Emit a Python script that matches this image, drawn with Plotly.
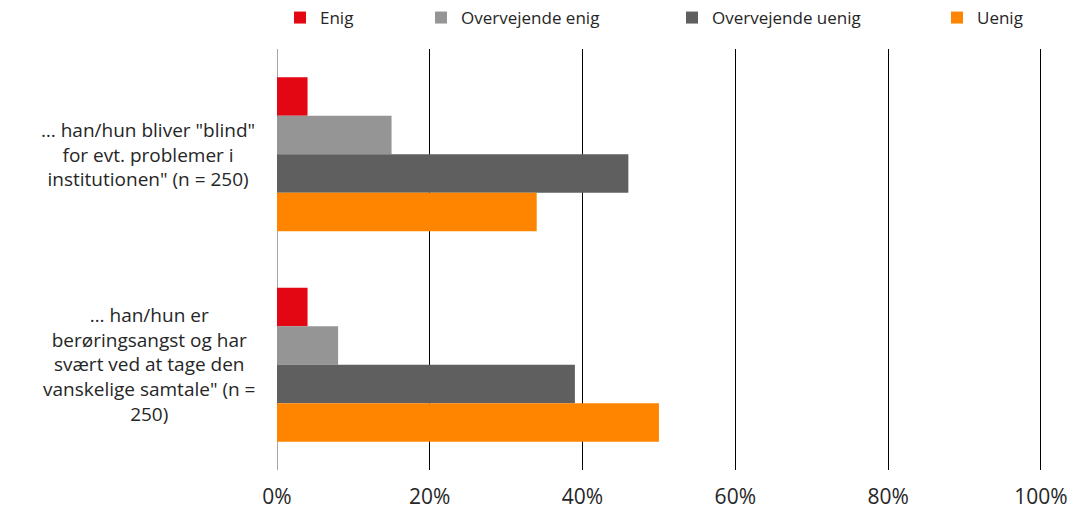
import plotly.graph_objects as go

# data
categories = ['… han/hun bliver "blind"<br>for evt. problemer i<br>institutionen" (n = 250)',
              '… han/hun er<br>berøringsangst og har<br>svært ved at tage den<br>vanskelige samtale" (n =<br>250)']
series = ['Enig', 'Overvejende enig', 'Overvejende uenig', 'Uenig']
values = {
    'Enig': [0.04, 0.04],
    'Overvejende enig': [0.15, 0.08],
    'Overvejende uenig': [0.46, 0.39],
    'Uenig': [0.34, 0.50],
}
colors = ['#e30613', '#959595', '#5f5f5f', '#ff8400']
ticks = [0, 0.2, 0.4, 0.6, 0.8, 1.0]

font_family = 'Open Sans, Noto Sans, sans-serif'
W, H = 1084, 509

fig = go.Figure()
legend_ids = ['legend', 'legend2', 'legend3', 'legend4']
for name, col, lg in zip(series, colors, legend_ids):
    fig.add_trace(go.Bar(y=categories, x=values[name], name=name, orientation='h',
                         marker=dict(color=col, line=dict(width=0)), legend=lg,
                         showlegend=True))

# category labels, centred like the original
for cat in categories:
    fig.add_annotation(x=-0.026, xref='paper', y=cat, yref='y', text=cat,
                       showarrow=False, xanchor='right', yanchor='middle', align='center',
                       font=dict(family=font_family, size=19, color='#262626'))

# one legend per entry, so that the spacing follows the original
text_starts = [320, 461, 712, 977]
legends = {}
for lg, xs in zip(legend_ids, text_starts):
    legends[lg] = dict(x=(xs - 40) / W, xref='container', xanchor='left',
                       y=1 - 18 / H, yref='container', yanchor='middle',
                       orientation='h', bgcolor='rgba(0,0,0,0)', visible=True,
                       font=dict(family=font_family, size=17, color='#262626'))

# range runs a hair past 100% so the last gridline is drawn
fig.update_xaxes(range=[0, 1.0015], tickvals=ticks, tickformat='.0%', showgrid=True,
                 gridcolor='#000000', gridwidth=1, zeroline=True, zerolinecolor='#a6a6a6',
                 zerolinewidth=1, showline=False, ticks='', automargin=False,
                 ticklabelstandoff=12,
                 tickfont=dict(family=font_family, size=21, color='#262626'))
fig.update_yaxes(autorange='reversed', showticklabels=False, showgrid=False,
                 zeroline=False, showline=False, ticks='')

fig.update_layout(width=W, height=H, barmode='group', bargap=0.268, bargroupgap=0,
                  margin=dict(l=277, r=42, t=49, b=39),
                  plot_bgcolor='white', paper_bgcolor='white', showlegend=True,
                  font=dict(family=font_family, color='#262626'),
                  **legends)

fig.write_html("out.html", config={'displayModeBar': False},
               post_script="document.body.style.margin='0px';")
